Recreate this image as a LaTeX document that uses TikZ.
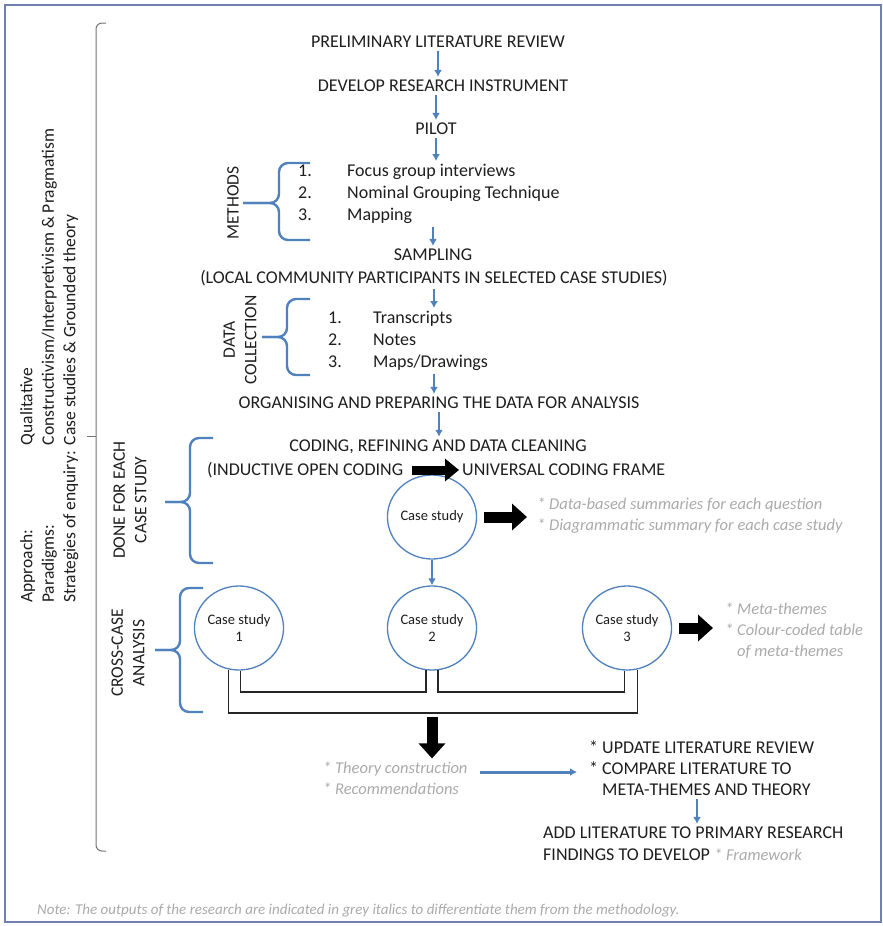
\documentclass[tikz,border=0pt]{standalone}
\usepackage{fontspec}
\setmainfont{Carlito}
\usepackage{tikz}
\usetikzlibrary{positioning}
\usetikzlibrary{shapes.geometric}
\usetikzlibrary{arrows.meta}
\definecolor{flowblue}{RGB}{79,129,189}
\definecolor{framecol}{RGB}{112,128,176}
\definecolor{outgrey}{RGB}{170,170,170}
\definecolor{textdark}{RGB}{30,30,30}
\colorlet{bracegrey}{black!55}
\tikzset{>=latex}
\tikzset{
  steptext/.style={font=\fontsize{18}{22}\selectfont, text=textdark, inner sep=3pt},
  sidelabel/.style={font=\fontsize{17.5}{21.5}\selectfont, text=textdark, rotate=90, align=center, inner sep=0pt},
  outtext/.style={font=\fontsize{16.5}{21}\selectfont\itshape, text=outgrey, align=left, inner sep=3pt},
  casecircle/.style={ellipse, draw=flowblue, line width=1.3pt, fill=white, minimum width=88pt, minimum height=84pt, font=\fontsize{14.5}{17}\selectfont, text=textdark, align=center, inner sep=0pt},
  flow/.style={draw=flowblue, line width=2pt, -{Latex[length=7pt,width=8pt]}},
  blockarrow/.style={draw=black, line width=11pt, -{Triangle[length=15pt,width=26pt]}},
  bluebrace/.style={draw=flowblue, line width=2.4pt, rounded corners=9pt},
  bus/.style={draw=black!85, line width=1.2pt},
}

\begin{document}
\begin{tikzpicture}[x=1pt, y=-1pt]
\useasboundingbox (0,0) rectangle (883,926);

% Frame
\draw[framecol, line width=1.2pt] (5,5) rectangle (881,922);

% Research design (left)
\node[sidelabel, anchor=north west] (design) at (17,603) {\begin{tabular}{@{}l@{\hspace{6pt}}l@{}}Approach: & Qualitative\\ Paradigms: & Constructivism/Interpretivism \& Pragmatism\\ Strategies of enquiry: & Case studies \& Grounded theory\end{tabular}};
\draw[bracegrey, line width=1pt, rounded corners=6pt] (106,23) -- (96,23) -- (96,851) -- (106,851);
\draw[bracegrey, line width=1pt] (96,436) -- (87,436);

% Braces
\draw[bluebrace] (310,163) -- (279,163) -- (279,203) -- (243,203);
\draw[bluebrace] (310,240) -- (279,240) -- (279,203) -- (243,203);
\draw[bluebrace] (310,299) -- (287,299) -- (287,337) -- (262,337);
\draw[bluebrace] (310,375) -- (287,375) -- (287,337) -- (262,337);
\draw[bluebrace] (213,438) -- (190,438) -- (190,502) -- (165,502);
\draw[bluebrace] (213,563) -- (190,563) -- (190,502) -- (165,502);
\draw[bluebrace] (203,588) -- (180,588) -- (180,650) -- (155,650);
\draw[bluebrace] (203,712) -- (180,712) -- (180,650) -- (155,650);

\node[sidelabel] (methods) at (233,203) {METHODS};
\node[sidelabel] (datacol) at (240,340) {DATA\\COLLECTION};
\node[sidelabel] (done) at (130,500) {DONE FOR EACH\\CASE STUDY};
\node[sidelabel] (cross) at (128,653) {CROSS-CASE\\ANALYSIS};

% Steps
\node[steptext] (prelim) at (438,42) {PRELIMINARY LITERATURE REVIEW};
\node[steptext] (develop) at (443,86) {DEVELOP RESEARCH INSTRUMENT};
\node[steptext] (pilot) at (436,129) {PILOT};
\node[steptext, align=left, anchor=west] (methodlist) at (295,194) {\makebox[49pt][l]{1.}Focus group interviews\\ \makebox[49pt][l]{2.}Nominal Grouping Technique\\ \makebox[49pt][l]{3.}Mapping};
\node[steptext] (sampling) at (433,255) {SAMPLING};
\node[steptext] (local) at (434,278) {(LOCAL COMMUNITY PARTICIPANTS IN SELECTED CASE STUDIES)};
\node[steptext, align=left, anchor=west] (datalist) at (325,341) {\makebox[45pt][l]{1.}Transcripts\\ \makebox[45pt][l]{2.}Notes\\ \makebox[45pt][l]{3.}Maps/Drawings};
\node[steptext] (organise) at (439,403) {ORGANISING AND PREPARING THE DATA FOR ANALYSIS};
\node[steptext] (coding) at (438,447) {CODING, REFINING AND DATA CLEANING};
\node[steptext, anchor=west] (inductive) at (204,470) {(INDUCTIVE OPEN CODING};
\node[steptext, anchor=west] (universal) at (459,470) {UNIVERSAL CODING FRAME};

% Case studies
\node[casecircle] (cs) at (432,517) {Case study};
\node[outtext, anchor=west] (csout) at (534,516) {* Data-based summaries for each question\\* Diagrammatic summary for each case study};
\node[casecircle] (cs1) at (239,628) {Case study\\1};
\node[casecircle] (cs2) at (432,628) {Case study\\2};
\node[casecircle] (cs3) at (627,628) {Case study\\3};
\node[outtext, anchor=west] (metaout) at (722,631) {* Meta-themes\\* Colour-coded table\\\hphantom{* }of meta-themes};

% Outputs
\node[outtext, anchor=west] (theory) at (320,778) {* Theory construction\\* Recommendations};
\node[steptext, align=left, anchor=west, font=\fontsize{18}{21}\selectfont] (update) at (586,768) {* UPDATE LITERATURE REVIEW\\* COMPARE LITERATURE TO\\\hphantom{* }META-THEMES AND THEORY};
\node[steptext, align=left, anchor=west] (addlit) at (540,844) {ADD LITERATURE TO PRIMARY RESEARCH\\FINDINGS TO DEVELOP {\color{outgrey}\itshape\fontsize{16.5}{21}\selectfont * Framework}};
\node[outtext, anchor=west, font=\fontsize{15}{17}\selectfont\itshape] (note) at (34,911) {Note: The outputs of the research are indicated in grey italics to differentiate them from the methodology.};

% Flow arrows
\draw[flow] (prelim.south) -- (prelim.south |- develop.north);
\draw[flow] (pilot.north |- develop.south) -- (pilot.north);
\draw[flow] (pilot.south) -- (pilot.south |- methodlist.north);
\draw[flow] (sampling.north |- methodlist.south) -- (sampling.north);
\draw[flow] (local.south) -- (local.south |- datalist.north);
\draw[flow] (local.south |- datalist.south) -- (local.south |- organise.north);
\draw[flow] (organise.south) -- (organise.south |- coding.north);
\draw[flow] (cs.south) -- (cs2.north);

\draw[blockarrow, line width=9pt, -{Triangle[length=14pt,width=22pt]}, shorten <=6pt] (inductive.east) -- (universal.west);
\draw[blockarrow, shorten <=7pt, shorten >=7pt] (cs.east) -- (cs.east -| csout.west);
\draw[blockarrow, shorten <=7pt, shorten >=9pt] (cs3.east) -- (cs3.east -| metaout.west);

% Cross-case connectors
\coordinate (innerbus) at (0,692);
\coordinate (outerbus) at (0,713);
\draw[bus] (cs1.-88) -- (cs1.-88 |- innerbus) -| (cs2.-98);
\draw[bus] (cs2.-82) -- (cs2.-82 |- innerbus) -| (cs3.-93);
\draw[bus] (cs1.-104) -- (cs1.-104 |- outerbus) -| (cs3.-76);

\coordinate (busdrop) at (432,717);
\draw[blockarrow] (busdrop) -- (busdrop |- theory.north);

\coordinate (midarrow) at (0,772);
\draw[flow, line width=3pt, shorten <=9pt, shorten >=9pt] (theory.east |- midarrow) -- (update.west |- midarrow);
\coordinate (litdrop) at (697,0);
\draw[flow] (update.south -| litdrop) -- (addlit.north -| litdrop);

\end{tikzpicture}
\end{document}
